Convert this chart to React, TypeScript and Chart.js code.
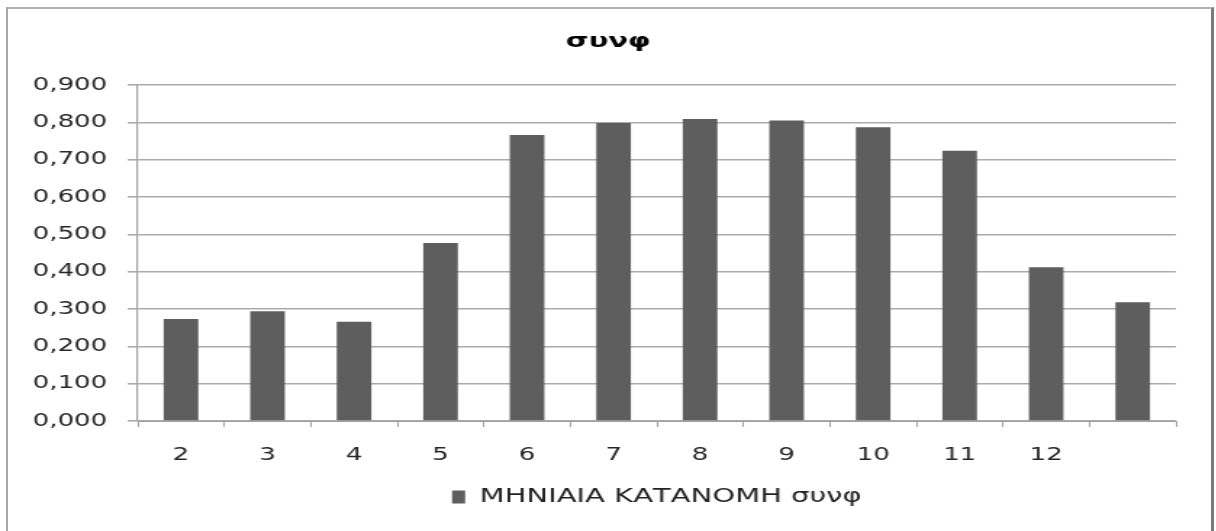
import React, { useEffect, useRef } from "react";
import { Chart, registerables } from "chart.js";

Chart.register(...registerables);

const chartTitle = "συνφ";
const seriesLabel = "ΜΗΝΙΑΙΑ ΚΑΤΑΝΟΜΗ συνφ";
const categories = ["2", "3", "4", "5", "6", "7", "8", "9", "10", "11", "12", ""];
const values = [0.273, 0.294, 0.266, 0.477, 0.766, 0.798, 0.809, 0.805, 0.787, 0.724, 0.412, 0.318];
const yMin = 0;
const yMax = 0.9;
const yStep = 0.1;

const W = 1216;
const H = 531;
const S = 1.45; // horizontal stretch of the original picture
const IW = Math.round(W / S);
const FONT = "'DejaVu Sans', sans-serif";
const BAR = "#5e5e5e";

export default function App() {
  const ref = useRef<HTMLCanvasElement | null>(null);

  useEffect(() => {
    if (!ref.current) return;
    const chart = new Chart(ref.current, {
      type: "bar",
      data: {
        labels: categories,
        datasets: [
          {
            label: seriesLabel,
            data: values,
            backgroundColor: BAR,
            borderWidth: 0,
            barPercentage: 0.4,
            categoryPercentage: 1,
          },
        ],
      },
      options: {
        animation: false,
        responsive: false,
        devicePixelRatio: 1,
        layout: { padding: { left: 0, right: 0, top: 20, bottom: 14 } },
        plugins: {
          title: {
            display: true,
            text: chartTitle,
            color: "#000",
            font: { family: FONT, size: 20, weight: "bold" },
            padding: { top: 10, bottom: 31 },
          },
          legend: {
            position: "bottom",
            fullSize: false,
            labels: {
              color: "#222",
              font: { family: FONT, size: 20 },
              boxWidth: 9,
              boxHeight: 13,
              padding: 21,
            },
          },
          tooltip: { enabled: false },
        },
        scales: {
          x: {
            afterFit: (scale: any) => {
              scale.height = 45;
            },
            grid: {
              display: true,
              drawOnChartArea: false,
              drawTicks: true,
              tickLength: 6,
              color: "#a0a0a0",
              offset: true,
            },
            border: { color: "#a0a0a0", width: 1 },
            ticks: {
              color: "#262626",
              font: { family: FONT, size: 18 },
              padding: 18,
              maxRotation: 0,
              autoSkip: false,
            },
          },
          y: {
            min: yMin,
            max: yMax,
            afterFit: (scale: any) => {
              scale.width = 95;
            },
            grid: { color: "#ababab", tickLength: 7, lineWidth: 1.6 },
            border: { color: "#a0a0a0", width: 1.2 },
            ticks: {
              stepSize: yStep,
              color: "#262626",
              font: { family: FONT, size: 18 },
              padding: 14,
              callback: (v: any) => Number(v).toFixed(3).replace(".", ","),
            },
          },
          yRight: {
            type: "linear",
            position: "right",
            display: true,
            afterFit: (scale: any) => {
              scale.width = 28;
            },
            grid: { display: false, drawTicks: false },
            border: { display: false },
            ticks: { display: false },
          },
        },
      },
    });
    return () => chart.destroy();
  }, []);

  return (
    <div style={{ position: "absolute", left: 0, top: 0, width: W, height: H, overflow: "hidden", background: "#fff" }}>
      <div
        style={{
          position: "absolute",
          left: 6,
          top: 7,
          width: 1214 - 6,
          height: 600,
          boxSizing: "border-box",
          borderLeft: "2px solid #a8a8a8",
          borderTop: "2px solid #b0b0b0",
          borderRight: "3px solid #7a7a7a",
        }}
      />
      <div
        style={{
          position: "absolute",
          left: 0,
          top: 0,
          width: IW,
          height: H,
          transform: `scaleX(${S})`,
          transformOrigin: "0 0",
        }}
      >
        <canvas ref={ref} width={IW} height={H} style={{ width: IW, height: H, display: "block" }} />
      </div>
    </div>
  );
}
